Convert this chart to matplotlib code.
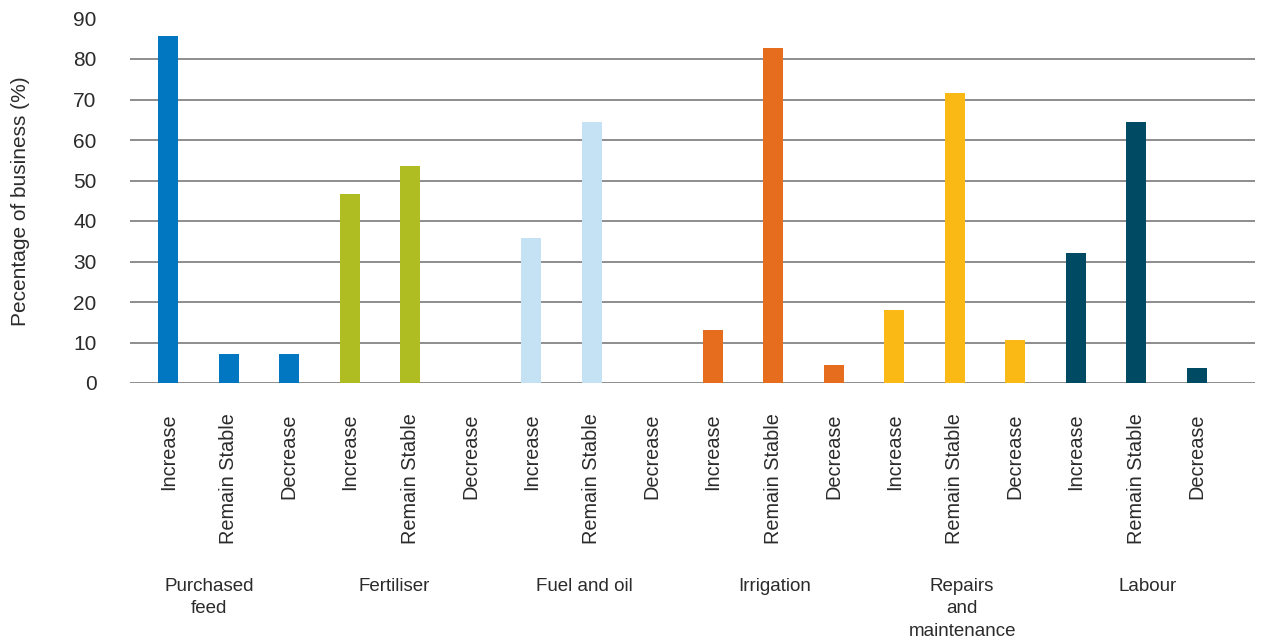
import numpy as np
import matplotlib.pyplot as plt
from matplotlib.transforms import blended_transform_factory

plt.rcParams['font.family'] = ['Liberation Sans', 'DejaVu Sans']

groups = ["Purchased\nfeed", "Fertiliser", "Fuel and oil", "Irrigation",
          "Repairs\nand\nmaintenance", "Labour"]
responses = ["Increase", "Remain Stable", "Decrease"]
colors = ["#0077c0", "#afbd22", "#c5e2f5", "#e66c1e", "#fbb915", "#004b63"]

purchased_feed = [85.7, 7.1, 7.1]
fertiliser = [46.7, 53.5, 0.0]
fuel_and_oil = [35.8, 64.4, 0.0]
irrigation = [13.1, 82.7, 4.4]
repairs = [18.0, 71.6, 10.6]
labour = [32.1, 64.4, 3.6]

series = [purchased_feed, fertiliser, fuel_and_oil, irrigation, repairs, labour]

# nudges for where the group captions sit under their bars
caption_shift = [-0.32, -0.26, -0.12, 0.02, 0.12, 0.18]

text_color = "#2b2b2b"

fig = plt.figure(figsize=(12.69, 6.41), dpi=100)
ax = fig.add_axes([130 / 1269, (641 - 383) / 641, 1125 / 1269, 364.5 / 641])

positions = []
for g, vals in enumerate(series):
    x = np.arange(3) + 3 * g
    ax.bar(x, vals, width=0.33, color=colors[g], zorder=3)
    positions.extend(x)

ax.set_xlim(-0.63, 17.96)
ax.set_ylim(0, 90)
ax.set_yticks(np.arange(0, 91, 10))
ax.yaxis.grid(True, color="#858585", linewidth=1.3, zorder=1)
ax.get_ygridlines()[-1].set_visible(False)
ax.set_axisbelow(True)

for s in ax.spines.values():
    s.set_visible(False)

ax.set_xticks(positions)
ax.set_xticklabels(responses * len(groups), rotation=90, va="top",
                   ha="center", fontsize=14.3, color=text_color)
ax.tick_params(axis="x", length=0, pad=22)
ax.tick_params(axis="y", length=0, pad=24, labelsize=15, labelcolor=text_color)

ax.set_ylabel("Pecentage of business (%)", fontsize=15, color=text_color)
ax.yaxis.set_label_coords(-0.089, 0.5)

trans = blended_transform_factory(ax.transData, fig.transFigure)
for g, name in enumerate(groups):
    ax.text(3 * g + 1 + caption_shift[g], (641 - 578) / 641, name,
            transform=trans, ha="center", va="top", fontsize=13.5,
            color=text_color, linespacing=1.42)

fig.savefig("out.png", dpi=100)
